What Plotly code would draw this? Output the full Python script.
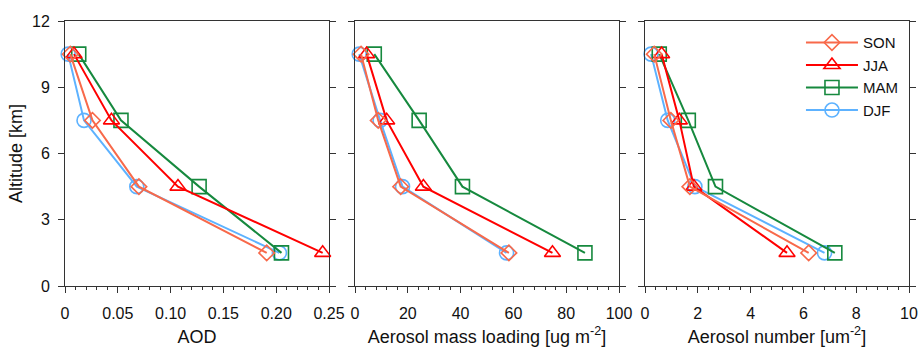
import plotly.graph_objects as go

altitude = [1.5, 4.5, 7.5, 10.5]
seasons = ["DJF", "MAM", "JJA", "SON"]

aod = {
    "SON": [0.191, 0.070, 0.026, 0.005],
    "JJA": [0.244, 0.107, 0.044, 0.0085],
    "MAM": [0.205, 0.127, 0.053, 0.013],
    "DJF": [0.203, 0.068, 0.018, 0.003],
}
mass = {
    "SON": [58.3, 17.3, 8.8, 2.3],
    "JJA": [74.8, 25.9, 12.0, 4.4],
    "MAM": [87.1, 40.7, 24.3, 7.3],
    "DJF": [57.4, 18.0, 9.5, 1.6],
}
number = {
    "SON": [6.2, 1.70, 0.98, 0.35],
    "JJA": [5.38, 1.85, 1.30, 0.63],
    "MAM": [7.19, 2.67, 1.64, 0.54],
    "DJF": [6.8, 1.89, 0.86, 0.23],
}

aod_ticks = [0, 0.05, 0.10, 0.15, 0.20, 0.25]
aod_labels = ["0", "0.05", "0.10", "0.15", "0.20", "0.25"]
mass_ticks = [0, 20, 40, 60, 80, 100]
mass_labels = ["0", "20", "40", "60", "80", "100"]
num_ticks = [0, 2, 4, 6, 8, 10]
num_labels = ["0", "2", "4", "6", "8", "10"]
alt_ticks = [0, 3, 6, 9, 12]
alt_labels = ["0", "3", "6", "9", "12"]

colors = {"SON": "#F8694A", "JJA": "#FF0000", "MAM": "#16893E", "DJF": "#5DB2FF"}
symbols = {"SON": "diamond-open", "JJA": "triangle-up-open",
           "MAM": "square-open", "DJF": "circle-open"}
sizes = {"SON": 12, "JJA": 14, "MAM": 14, "DJF": 14}

FONT = "Liberation Sans, Arial, Helvetica, sans-serif"
TICK_FS = 16
TITLE_FS = 18
LEG_FS = 15

fig = go.Figure()
panels = [(aod, "x", "y"), (mass, "x2", "y2"), (number, "x3", "y3")]
for i, (data, xa, ya) in enumerate(panels):
    for s in seasons:
        fig.add_trace(go.Scatter(
            x=data[s], y=altitude, mode="lines+markers", name=s,
            line=dict(color=colors[s], width=2),
            marker=dict(symbol=symbols[s], size=sizes[s], color=colors[s],
                        line=dict(width=1.6, color=colors[s])),
            xaxis=xa, yaxis=ya, showlegend=(i == 2), cliponaxis=False,
        ))

W = 844.0
doms = [[0, 264 / W], [290 / W, 554 / W], [580 / W, 1]]
xtitles = ["AOD", "Aerosol mass loading [ug m<sup>-2</sup>]",
           "Aerosol number [um<sup>-2</sup>]"]
xranges = [[0, 0.25], [0, 100], [0, 10]]
xtickvals = [aod_ticks, mass_ticks, num_ticks]
xticktext = [aod_labels, mass_labels, num_labels]
xminor = [0.01, 4, 0.4]

axis_common = dict(showgrid=False, zeroline=False, showline=True,
                   linecolor="#333333", linewidth=1, automargin=False,
                   tickcolor="#333333", ticks="outside",
                   tickfont=dict(family=FONT, size=TICK_FS, color="#111111"))

layout = dict(
    width=921, height=347, margin=dict(l=65, r=12, t=21, b=61),
    paper_bgcolor="white", plot_bgcolor="white",
    font=dict(family=FONT, size=TICK_FS, color="#111111"),
    legend=dict(x=0.872, y=0.98, xanchor="left", yanchor="top",
                traceorder="reversed", bgcolor="rgba(0,0,0,0)",
                font=dict(family=FONT, size=LEG_FS), itemwidth=52,
                tracegroupgap=0),
)
for i in range(3):
    sfx = "" if i == 0 else str(i + 1)
    layout["xaxis" + sfx] = dict(
        axis_common, domain=doms[i], range=xranges[i],
        tickmode="array", tickvals=xtickvals[i], ticktext=xticktext[i],
        ticklen=6, ticklabelstandoff=7, mirror=True, anchor="y" + sfx,
        minor=dict(ticks="outside", ticklen=3, dtick=xminor[i], tick0=0,
                   tickcolor="#333333"),
        title=dict(text=xtitles[i], font=dict(family=FONT, size=TITLE_FS),
                   standoff=9),
    )
    layout["yaxis" + sfx] = dict(
        axis_common, range=[0, 12], tickmode="array", tickvals=alt_ticks,
        ticktext=alt_labels, ticklen=6, ticklabelstandoff=5,
        mirror="ticks", anchor="x" + sfx, showticklabels=(i == 0),
        title=dict(text="Altitude [km]" if i == 0 else "",
                   font=dict(family=FONT, size=TITLE_FS), standoff=4),
    )
fig.update_layout(**layout)
fig.write_html("out.html")
